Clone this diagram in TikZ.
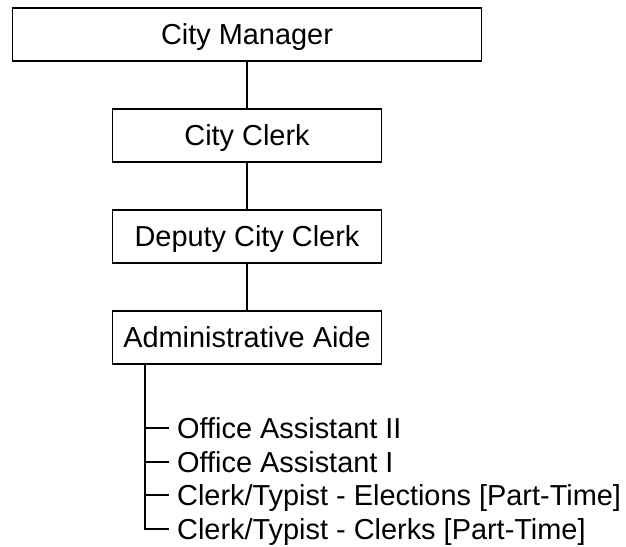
\documentclass[tikz,border=0pt]{standalone}
\usepackage{fontspec}
\setmainfont{Liberation Sans}
\usetikzlibrary{
		calc,
		positioning
	}
\tikzset{
		post/.style={draw=black, line width=1.8pt, minimum width=269pt,
			minimum height=53pt, inner sep=0pt, text height=20.7pt, text depth=0pt},
		staff/.style={anchor=base west, inner xsep=8pt, inner ysep=0pt},
		link/.style={line width=2pt}
	}

\begin{document}
\begin{tikzpicture}[x=1pt, y=-1pt, font=\fontsize{28.9}{34}\selectfont]
          \useasboundingbox (0,0) rectangle (626,546);

          \node[post, minimum width=469pt] (mgr) at (247,34.5) {City Manager};
          \node[post] (clerk) at (247,135.5) {City Clerk};
          \node[post] (deputy) at (247,236.5) {Deputy City Clerk};
          \node[post] (aide) at (247,337.5) {Administrative Aide};

          \draw[link] (mgr) -- (clerk);
          \draw[link] (clerk) -- (deputy);
          \draw[link] (deputy) -- (aide);

          % staff under the aide
          \node[staff] (oatwo) at (169,438.5) {Office Assistant II};
          \node[staff] (oaone) at (169,472.5) {Office Assistant I};
          \node[staff] (typel) at (169,505.5) {Clerk/Typist - Elections [Part-Time]};
          \node[staff] (typcl) at (169,539.5) {Clerk/Typist - Clerks [Part-Time]};

          \coordinate (trunk) at (145,364);
          \draw[link] (trunk) |- ($(typcl.base west)+(0,-10.5)$);
          \draw[link] (trunk |- oatwo.base west) ++(0,-10.5) -- ($(oatwo.base west)+(0,-10.5)$);
          \draw[link] (trunk |- oaone.base west) ++(0,-10.5) -- ($(oaone.base west)+(0,-10.5)$);
          \draw[link] (trunk |- typel.base west) ++(0,-10.5) -- ($(typel.base west)+(0,-10.5)$);

          \end{tikzpicture}
\end{document}
